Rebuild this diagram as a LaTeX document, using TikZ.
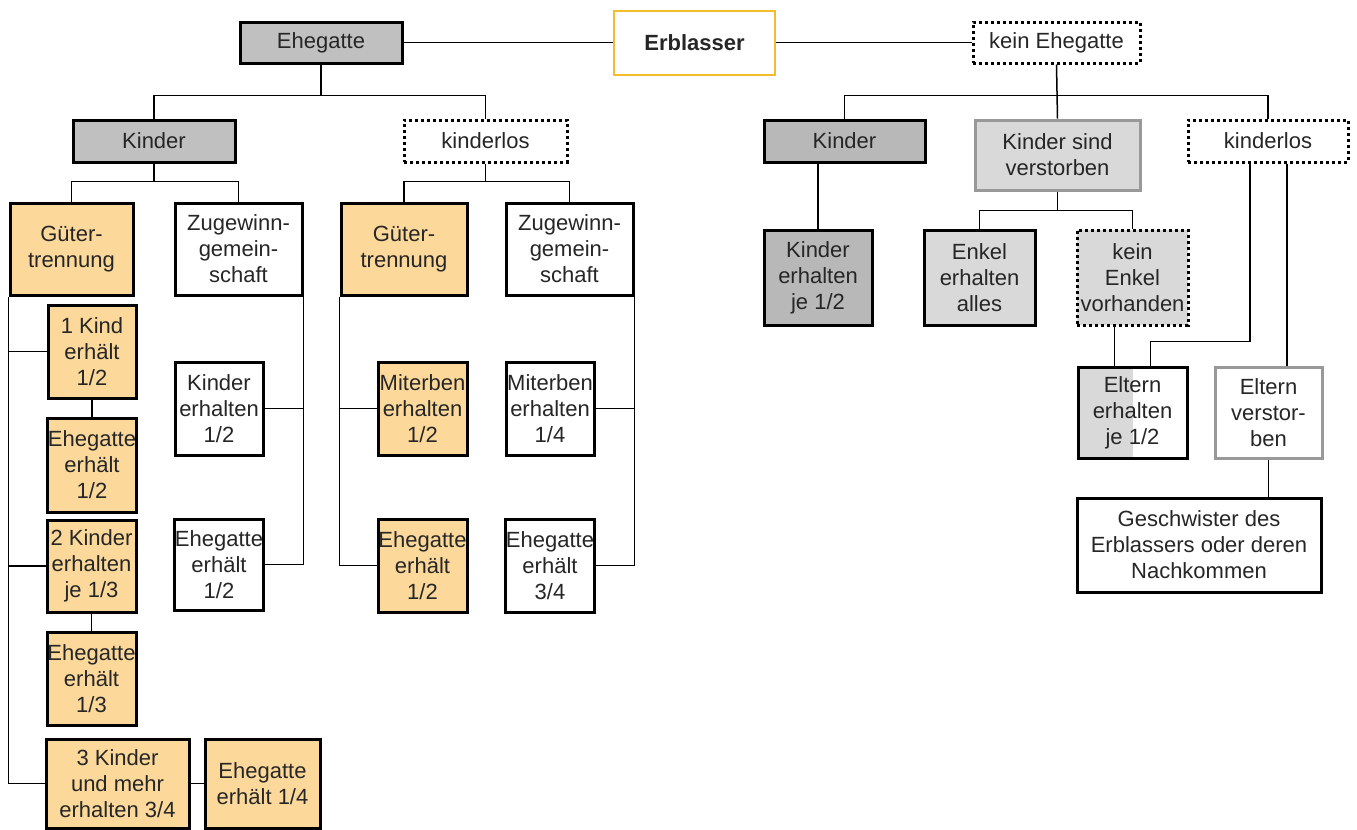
\documentclass[tikz,border=0pt]{standalone}
\usepackage{fontspec}
\setmainfont{Liberation Sans}
\usepackage{tikz}

\definecolor{boxgray}{HTML}{C0C0C0}
\definecolor{boxdarkgray}{HTML}{B8B8B8}
\definecolor{boxlightgray}{HTML}{D9D9D9}
\definecolor{boxyellow}{HTML}{FCD99A}
\definecolor{erbgold}{HTML}{F4BC2C}
\definecolor{rimgray}{HTML}{999999}

\tikzset{
  box/.style={draw=black, line width=1.5pt, fill=white, inner sep=0pt, align=center,
    text=black!85, font=\fontsize{11}{13}\selectfont},
  graybox/.style={box, fill=boxgray},
  yelbox/.style={box, fill=boxyellow},
  dotbox/.style={box, dash pattern=on 1.5pt off 1.5pt},
  area/.style n args={4}{at={({(#1+#3)/2},{(#2+#4)/2})},
    minimum width={(#3-#1)*0.5pt}, minimum height={(#4-#2)*0.5pt}},
}

\begin{document}
\begin{tikzpicture}[x=0.5pt, y=-0.5pt, line width=0.75pt]
            \useasboundingbox (0,0) rectangle (1357,830);

            % draw top row
            \node[graybox, area={240}{22}{402}{63}] (ehe) {Ehegatte};
            \node[box, draw=erbgold, line width=1.2pt, area={614}{11}{775}{75}] (erb) {\textbf{Erblasser}};
            \node[dotbox, area={973}{22}{1140}{63}] (kehe) {kein Ehegatte};

            % draw Ehegatte side
            \node[graybox, area={73}{120}{235}{162}] (kindL) {Kinder};
            \node[dotbox, area={404}{120}{567}{162}] (losL) {kinderlos};
            \node[yelbox, area={10}{203}{133}{295}] (gtL) {Güter-\\trennung};
            \node[box, area={175}{203}{302}{295}] (zgL) {Zugewinn-\\gemein-\\schaft};
            \node[yelbox, area={341}{203}{467}{295}] (gtR) {Güter-\\trennung};
            \node[box, area={506}{203}{633}{295}] (zgR) {Zugewinn-\\gemein-\\schaft};

            % draw shares with Gütertrennung and Kinder
            \node[yelbox, area={48}{305}{136}{398}] (k1) {1 Kind\\erhält\\1/2};
            \node[yelbox, area={48}{418}{136}{512}] (e1) {Ehegatte\\erhält\\1/2};
            \node[yelbox, area={47}{520}{136}{612}] (k2) {2 Kinder\\erhalten\\je 1/3};
            \node[yelbox, area={47}{632}{136}{725}] (e2) {Ehegatte\\erhält\\1/3};
            \node[yelbox, area={46}{739}{189}{828}] (k3) {3 Kinder\\und mehr\\erhalten 3/4};
            \node[yelbox, area={205}{739}{320}{828}] (e3) {Ehegatte\\erhält 1/4};

            % draw shares with Zugewinngemeinschaft and Kinder
            \node[box, area={175}{362}{263}{455}] (zk) {Kinder\\erhalten\\1/2};
            \node[box, area={175}{519}{263}{610}] (ze) {Ehegatte\\erhält\\1/2};

            % draw shares without Kinder
            \node[yelbox, area={378}{362}{467}{455}] (gm) {Miterben\\erhalten\\1/2};
            \node[yelbox, area={378}{519}{467}{612}] (ge) {Ehegatte\\erhält\\1/2};
            \node[box, area={506}{362}{594}{455}] (zm) {Miterben\\erhalten\\1/4};
            \node[box, area={506}{519}{594}{612}] (zee) {Ehegatte\\erhält\\3/4};

            % draw kein Ehegatte side
            \node[box, fill=boxdarkgray, area={764}{120}{925}{162}] (kindR) {Kinder};
            \node[box, draw=rimgray, fill=boxlightgray, area={975}{120}{1140}{190}] (ksv) {Kinder sind\\verstorben};
            \node[dotbox, area={1188}{120}{1348}{162}] (losR) {kinderlos};
            \node[box, fill=boxdarkgray, area={764}{230}{872}{325}] (kej) {Kinder\\erhalten\\je 1/2};
            \node[box, fill=boxlightgray, area={924}{230}{1035}{325}] (enk) {Enkel\\erhalten\\alles};
            \node[dotbox, fill=boxlightgray, area={1077}{230}{1188}{325}] (ken) {kein\\Enkel\\vorhanden};
            \node[box, path picture={\fill[boxlightgray] (path picture bounding box.south west) rectangle (path picture bounding box.north);},
                  area={1078}{367}{1187}{458}] (elt) {Eltern\\erhalten\\je 1/2};
            \node[box, draw=rimgray, area={1215}{367}{1322}{458}] (elv) {Eltern\\verstor-\\ben};
            \node[box, area={1077}{498}{1321}{592}] (ges) {Geschwister des\\Erblassers oder deren\\Nachkommen};

            % draw connectors top
            \draw (ehe.east) -- (ehe.east -| erb.west);
            \draw (kehe.west) -- (kehe.west -| erb.east);
            \draw (kindL.north) -- ++(0,-23) coordinate (busA) -| (losL.north);
            \draw (ehe.south) -- (ehe.south |- busA);
            \draw (gtL.north) -- ++(0,-20) coordinate (busB) -| (zgL.north);
            \draw (kindL.south) -- (kindL.south |- busB);
            \draw (gtR.north) -- ++(0,-20) coordinate (busC) -| (zgR.north);
            \draw (losL.south) -- (losL.south |- busC);

            % draw connectors left column
            \draw (gtL.south west) |- (k3.west);
            \draw (k1.west) -- (k1.west -| gtL.west);
            \draw (k2.west) -- (k2.west -| gtL.west);
            \draw (k1) -- (e1);
            \draw (k2) -- (e2);
            \draw (k3) -- (e3);
            \draw (zgL.south east) |- (ze.east);
            \draw (zk.east) -- (zk.east -| zgL.east);
            \draw (gtR.south west) |- (ge.west);
            \draw (gm.west) -- (gm.west -| gtR.west);
            \draw (zgR.south east) |- (zee.east);
            \draw (zm.east) -- (zm.east -| zgR.east);

            % draw connectors right side
            \draw (kindR.north) -- ++(0,-23) coordinate (busD) -| (losR.north);
            \draw (kehe.south) -- (ksv.north);
            \draw (kej.north) -- (kej.north |- kindR.south);
            \draw (enk.north) -- ++(0,-18) coordinate (busE) -| (ken.north);
            \draw (ksv.south) -- (ksv.south |- busE);
            \draw ([xshift=-9pt]ken.south) -- ([xshift=-9pt]ken.south |- elt.north);
            \draw ([xshift=-9pt]losR.south) -- ++(0,178) -| ([xshift=9pt]elt.north);
            \draw ([xshift=9.5pt]losR.south) -- ([xshift=9.5pt]losR.south |- elv.north);
            \draw (elv.south) -- (elv.south |- ges.north);
        \end{tikzpicture}
\end{document}
